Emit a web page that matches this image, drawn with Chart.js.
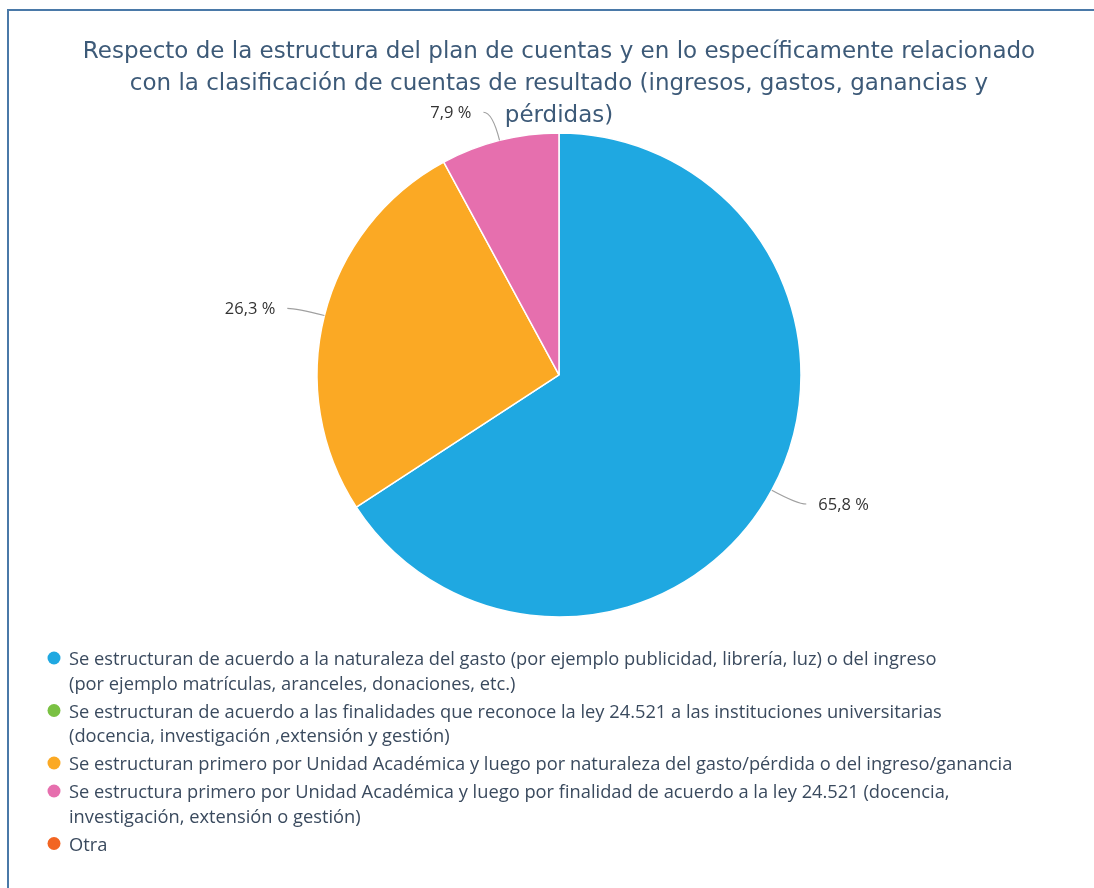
<!DOCTYPE html>
<html>
<head>
<meta charset="utf-8">
<script src="https://cdn.jsdelivr.net/npm/chart.js@4.4.1/dist/chart.umd.min.js"></script>
<style>
  html, body { margin: 0; padding: 0; overflow: hidden; background: #fff; }
  #marco {
    position: absolute; left: 7px; top: 9px; width: 1200px; height: 1000px;
    border-top: 2px solid #4a79a8; border-left: 2px solid #4a79a8;
  }
  #grafico { position: absolute; left: 0; top: 0; }
</style>
</head>
<body>
<div id="marco"></div>
<canvas id="grafico" width="1094" height="888"></canvas>
<script>
// Titulo
const titulo = [
  "Respecto de la estructura del plan de cuentas y en lo específicamente relacionado",
  "con la clasificación de cuentas de resultado (ingresos, gastos, ganancias y",
  "pérdidas)",
];

// Categorias (cada una en las lineas de la leyenda)
const categorias = [
  ["Se estructuran de acuerdo a la naturaleza del gasto (por ejemplo publicidad, librería, luz) o del ingreso",
   "(por ejemplo matrículas, aranceles, donaciones, etc.)"],
  ["Se estructuran de acuerdo a las finalidades que reconoce la ley 24.521 a las instituciones universitarias",
   "(docencia, investigación ,extensión y gestión)"],
  ["Se estructuran primero por Unidad Académica y luego por naturaleza del gasto/pérdida o del ingreso/ganancia"],
  ["Se estructura primero por Unidad Académica y luego por finalidad de acuerdo a la ley 24.521 (docencia,",
   "investigación, extensión o gestión)"],
  ["Otra"],
];

// Porcentajes
const valores = [65.8, 0, 26.3, 7.9, 0];

// Colores
const colores = ["#1fa8e1", "#7ac143", "#fba924", "#e66fae", "#f26522"];

const FUENTE = "'Open Sans', 'DejaVu Sans', sans-serif";
const FUENTE_TITULO = "'DejaVu Sans', sans-serif";

// Etiquetas con linea guia
const etiquetasPlugin = {
  id: "etiquetas",
  afterDatasetsDraw(chart) {
    const ctx = chart.ctx;
    const meta = chart.getDatasetMeta(0);
    ctx.save();
    ctx.font = "16.5px " + FUENTE;
    ctx.textBaseline = "middle";
    meta.data.forEach((arc, i) => {
      if (!valores[i]) return;
      const p = arc.getProps(["x", "y", "startAngle", "endAngle", "outerRadius"], true);
      const medio = (p.startAngle + p.endAngle) / 2;
      const cos = Math.cos(medio);
      const sin = Math.sin(medio);
      const x0 = p.x + cos * p.outerRadius;
      const y0 = p.y + sin * p.outerRadius;
      const x1 = p.x + cos * (p.outerRadius + 29);
      const y1 = p.y + sin * (p.outerRadius + 29);
      const dir = cos >= 0 ? 1 : -1;
      const x2 = x1 + dir * 9;

      ctx.strokeStyle = "#a0a0a0";
      ctx.lineWidth = 1.2;
      ctx.beginPath();
      ctx.moveTo(x0, y0);
      ctx.quadraticCurveTo(x1, y1, x2, y1);
      ctx.stroke();

      ctx.fillStyle = "#333333";
      ctx.textAlign = dir > 0 ? "left" : "right";
      const texto = valores[i].toFixed(1).replace(".", ",") + " %";
      ctx.fillText(texto, x2 + dir * 12, y1 + 1);
    });
    ctx.restore();
  },
};

// Leyenda abajo, con lineas multiples
const leyendaPlugin = {
  id: "leyendaAbajo",
  afterDraw(chart) {
    const ctx = chart.ctx;
    ctx.save();
    ctx.font = "18.3px " + FUENTE;
    ctx.textBaseline = "middle";
    ctx.textAlign = "left";
    let y = 660;
    categorias.forEach((lineas, i) => {
      ctx.fillStyle = colores[i];
      ctx.beginPath();
      ctx.arc(54, y - 2, 6.5, 0, Math.PI * 2);
      ctx.fill();
      ctx.fillStyle = "#3a4a5e";
      lineas.forEach((l) => {
        ctx.fillText(l, 69, y);
        y += 24.5;
      });
      y += 3.5;
    });
    ctx.restore();
  },
};

new Chart(document.getElementById("grafico"), {
  type: "pie",
  data: {
    labels: categorias,
    datasets: [
      {
        data: valores,
        backgroundColor: colores,
        borderColor: "#ffffff",
        borderWidth: 1.5,
      },
    ],
  },
  options: {
    responsive: false,
    animation: false,
    radius: 242,
    layout: { padding: { left: 24, right: 0, top: 0, bottom: 271 } },
    plugins: {
      title: {
        display: true,
        text: titulo,
        color: "#3d5a78",
        font: { family: FUENTE_TITULO, size: 23, weight: "normal", lineHeight: 1.39 },
        padding: { top: 36, bottom: 1 },
      },
      legend: { display: false },
      tooltip: { enabled: false },
    },
  },
  plugins: [etiquetasPlugin, leyendaPlugin],
});
</script>
</body>
</html>
